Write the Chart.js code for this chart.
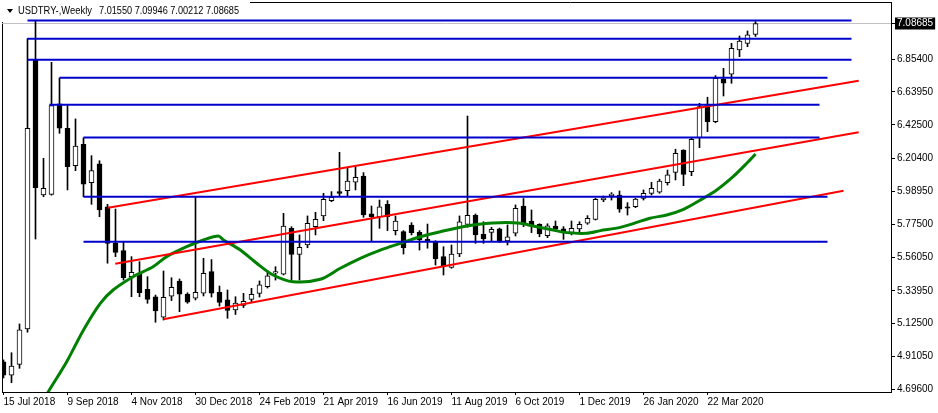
<!DOCTYPE html>
<html>
<head>
<meta charset="utf-8">
<script src="https://cdn.jsdelivr.net/npm/chart.js@4.4.1/dist/chart.umd.min.js"></script>
<style>
  html, body { margin: 0; padding: 0; background: #fff; }
</style>
</head>
<body>
<canvas id="usdtryChart" width="938" height="413"></canvas>
<script>
const symbol = 'USDTRY-,Weekly';
const fontFamily = "'Liberation Sans', Arial, sans-serif";

// weekly candles, index 0 = week of 15 Jul 2018
const opens = [4.876, 4.789, 4.859, 5.090, 6.848, 5.966, 5.970, 6.561, 6.402, 6.157,
  6.297, 6.046, 6.169, 5.889, 5.650, 5.602, 5.432, 5.454, 5.350, 5.301,
  5.167, 5.304, 5.404, 5.319, 5.291, 5.325, 5.466, 5.330, 5.280, 5.214,
  5.244, 5.284, 5.323, 5.367, 5.455, 5.448, 5.748, 5.578, 5.639, 5.759,
  5.829, 5.929, 5.988, 5.994, 6.049, 6.090, 5.842, 5.824, 5.905, 5.733,
  5.726, 5.770, 5.722, 5.676, 5.657, 5.563, 5.493, 5.580, 5.774, 5.833,
  5.709, 5.722, 5.744, 5.665, 5.716, 5.894, 5.796, 5.774, 5.700, 5.763,
  5.744, 5.722, 5.744, 5.781, 5.807, 5.933, 5.961, 5.966, 5.888, 5.889,
  5.944, 5.977, 5.984, 6.046, 6.114, 6.260, 6.118, 6.340, 6.548, 6.445,
  6.724, 6.755, 6.914, 6.957, 7.01550];
const highs = [4.888, 4.935, 5.123, 6.988, 7.105, 6.206, 6.833, 6.731, 6.550, 6.463,
  6.340, 6.223, 6.190, 5.905, 5.874, 5.657, 5.563, 5.530, 5.432, 5.312,
  5.469, 5.425, 5.417, 5.327, 5.955, 5.552, 5.544, 5.371, 5.345, 5.301,
  5.323, 5.356, 5.404, 5.469, 5.497, 5.846, 5.759, 5.705, 5.829, 5.853,
  5.977, 5.988, 6.245, 6.140, 6.147, 6.112, 5.894, 5.933, 5.929, 5.829,
  5.733, 5.785, 5.733, 5.776, 5.667, 5.628, 5.639, 5.829, 6.482, 5.842,
  5.791, 5.755, 5.750, 5.770, 5.901, 5.943, 5.868, 5.778, 5.778, 5.796,
  5.759, 5.796, 5.791, 5.831, 5.944, 5.959, 5.981, 5.992, 5.916, 5.944,
  5.999, 6.049, 6.069, 6.129, 6.265, 6.262, 6.340, 6.565, 6.605, 6.746,
  6.794, 6.957, 7.005, 7.038, 7.09946];
const lows = [4.770, 4.739, 4.833, 5.070, 5.678, 5.955, 5.965, 6.369, 5.999, 6.125,
  5.955, 5.905, 5.824, 5.520, 5.563, 5.410, 5.301, 5.301, 5.258, 5.134,
  5.149, 5.276, 5.203, 5.258, 5.280, 5.306, 5.299, 5.240, 5.160, 5.185,
  5.230, 5.265, 5.299, 5.358, 5.410, 5.443, 5.410, 5.410, 5.621, 5.705,
  5.798, 5.922, 5.959, 5.959, 5.999, 5.820, 5.661, 5.748, 5.733, 5.705,
  5.580, 5.705, 5.606, 5.618, 5.508, 5.443, 5.487, 5.563, 5.755, 5.650,
  5.650, 5.661, 5.654, 5.639, 5.698, 5.759, 5.720, 5.693, 5.687, 5.726,
  5.676, 5.705, 5.726, 5.774, 5.802, 5.922, 5.933, 5.853, 5.835, 5.883,
  5.933, 5.966, 5.977, 6.031, 6.064, 6.027, 6.092, 6.275, 6.380, 6.438,
  6.613, 6.696, 6.870, 6.935, 7.00212];
const closes = [4.789, 4.848, 5.084, 6.402, 6.014, 6.010, 6.550, 6.402, 6.151, 6.286,
  6.036, 6.125, 5.868, 5.650, 5.591, 5.425, 5.461, 5.327, 5.284, 5.208,
  5.297, 5.363, 5.317, 5.265, 5.330, 5.454, 5.325, 5.263, 5.212, 5.260,
  5.271, 5.317, 5.378, 5.437, 5.465, 5.763, 5.578, 5.624, 5.781, 5.807,
  5.938, 5.951, 5.977, 6.057, 6.082, 5.835, 5.824, 5.889, 5.824, 5.796,
  5.621, 5.720, 5.672, 5.667, 5.548, 5.504, 5.580, 5.791, 5.833, 5.705,
  5.678, 5.742, 5.665, 5.693, 5.879, 5.781, 5.770, 5.711, 5.765, 5.742,
  5.722, 5.748, 5.774, 5.814, 5.938, 5.948, 5.972, 5.874, 5.879, 5.940,
  5.977, 6.010, 6.057, 6.097, 6.238, 6.101, 6.330, 6.543, 6.445, 6.729,
  6.696, 6.925, 6.972, 7.012, 7.08685];

// green moving average (week index, price)
const maWeeks = [4.5, 5.6, 7.9, 10.0, 12.1, 13.7, 16.2, 18.7, 20.4, 22.9, 25.0, 26.85, 27.5,
  29.6, 31.65, 33.7, 36.2, 39.6, 42.1, 44.6, 47.1, 49.6, 52.1, 54.6, 58.7, 62.1, 64.6,
  66.2, 68.7, 70.4, 72.9, 74.6, 77.1, 80.8, 82.9, 85.0, 87.1, 89.15, 91.2, 92.9, 94.0];
const maValues = [4.58, 4.68, 4.876, 5.084, 5.258, 5.345, 5.432, 5.497, 5.563, 5.628, 5.672, 5.698, 5.672,
  5.606, 5.520, 5.443, 5.399, 5.415, 5.487, 5.552, 5.606, 5.650, 5.693, 5.726, 5.770, 5.785, 5.781,
  5.763, 5.737, 5.720, 5.716, 5.733, 5.754, 5.814, 5.835, 5.872, 5.933, 5.999, 6.086, 6.173, 6.234];

// horizontal levels (blue)
const levels = [7.1065, 6.9875, 6.850, 6.733, 6.556, 6.342, 5.954, 5.661];
const levelFrom = [3, 3, 3, 7, 5.73, 10, 10, 10];
const levelTo = [106, 106, 106, 103, 102, 102, 103, 103];

// channel trend lines (red)
const chanFromWeek = [13.06, 13.97, 19.97];
const chanFromPrice = [5.883, 5.517, 5.1535];
const chanToWeek = [106.9, 106.9, 105.0];
const chanToPrice = [6.713, 6.376, 5.994];

// axis labels
const dateLabels = ['15 Jul 2018', '9 Sep 2018', '4 Nov 2018', '30 Dec 2018', '24 Feb 2019', '21 Apr 2019',
  '16 Jun 2019', '11 Aug 2019', '6 Oct 2019', '1 Dec 2019', '26 Jan 2020', '22 Mar 2020'];
const dateWeeks = [0, 8, 16, 24, 32, 40, 48, 56, 64, 72, 80, 88];
const priceLabels = ['4.69600', '4.91050', '5.12500', '5.33950', '5.56050', '5.77500',
  '5.98950', '6.20400', '6.42500', '6.63950', '6.85400'];

const last = closes.length - 1;
const lastClose = closes[last];
const xMin = -0.1875, xMax = 110.9375;
const yMin = 4.6783, yMax = 7.2273;

const datasets = [];

levels.forEach((lv, i) => {
  datasets.push({
    type: 'line', order: 0,
    data: [{ x: levelFrom[i], y: lv }, { x: levelTo[i], y: lv }],
    borderColor: '#0000cd', borderWidth: 2, pointRadius: 0
  });
});

chanFromWeek.forEach((w, i) => {
  datasets.push({
    type: 'line', order: 0,
    data: [{ x: w, y: chanFromPrice[i] }, { x: chanToWeek[i], y: chanToPrice[i] }],
    borderColor: '#ff0000', borderWidth: 2, pointRadius: 0
  });
});

datasets.push({
  type: 'line', order: 0,
  data: maWeeks.map((w, i) => ({ x: w, y: maValues[i] })),
  borderColor: '#008000', borderWidth: 3, pointRadius: 0, tension: 0.3
});

// candle bodies
datasets.push({
  type: 'bar', order: 1, grouped: false,
  data: opens.map((o, i) => ({ x: i, y: [o, closes[i]] })),
  backgroundColor: opens.map((o, i) => closes[i] >= o ? '#ffffff' : '#000000'),
  borderColor: '#000000', borderWidth: 1, borderSkipped: false,
  barThickness: 5, minBarLength: 1
});

// wicks
datasets.push({
  type: 'bar', order: 2, grouped: false,
  data: highs.map((h, i) => ({ x: i, y: [lows[i], h] })),
  backgroundColor: '#000000', borderWidth: 0,
  barThickness: 1
});

// current price line
datasets.push({
  type: 'line', order: 3,
  data: [{ x: xMin, y: lastClose }, { x: xMax, y: lastClose }],
  borderColor: '#c0c0c0', borderWidth: 1, pointRadius: 0
});

const framePlugin = {
  id: 'frame',
  beforeDatasetsDraw(chart) {
    const { ctx, chartArea } = chart;
    ctx.save();
    ctx.strokeStyle = '#000';
    ctx.lineWidth = 1;
    ctx.beginPath();
    ctx.moveTo(chartArea.left + 0.5, 22);
    ctx.lineTo(chartArea.left + 0.5, chartArea.bottom);
    ctx.moveTo(250, chartArea.top + 0.5);
    ctx.lineTo(chartArea.right, chartArea.top + 0.5);
    ctx.stroke();
    ctx.restore();
  }
};

const headerPlugin = {
  id: 'header',
  afterDraw(chart) {
    const ctx = chart.ctx;
    ctx.save();
    ctx.fillStyle = '#000';
    ctx.beginPath();
    ctx.moveTo(7, 9);
    ctx.lineTo(13, 9);
    ctx.lineTo(10, 13);
    ctx.closePath();
    ctx.fill();
    ctx.font = '11px ' + fontFamily;
    ctx.textBaseline = 'alphabetic';
    ctx.fillText(symbol, 18, 14, 74);
    const ohlc = [opens[last], highs[last], lows[last], closes[last]].map(v => v.toFixed(5)).join(' ');
    ctx.fillText(ohlc, 99, 14, 140);
    ctx.restore();
  }
};

new Chart(document.getElementById('usdtryChart'), {
  type: 'bar',
  data: { datasets },
  options: {
    responsive: false,
    animation: false,
    devicePixelRatio: 1,
    layout: { padding: { top: 2, left: 2, right: 0, bottom: 0 } },
    plugins: { legend: { display: false }, tooltip: { enabled: false } },
    scales: {
      x: {
        type: 'linear', position: 'bottom', min: xMin, max: xMax,
        offset: false, bounds: 'data',
        grid: { display: true, drawOnChartArea: false, drawTicks: true, tickLength: 3, color: '#000', offset: false },
        border: { display: true, color: '#000' },
        ticks: {
          autoSkip: false, maxRotation: 0, align: 'start', padding: 1, color: '#000',
          font: { family: fontFamily, size: 10 },
          callback: (v, i) => dateLabels[i]
        },
        afterBuildTicks: s => { s.ticks = dateWeeks.map(v => ({ value: v })); },
        afterFit: s => { s.height = 21; s.paddingLeft = 0; s.paddingRight = 0; }
      },
      y: {
        type: 'linear', position: 'right', min: yMin, max: yMax,
        beginAtZero: false, bounds: 'data',
        grid: { display: true, drawOnChartArea: false, drawTicks: true, tickLength: 4, color: '#000' },
        border: { display: true, color: '#000' },
        ticks: {
          padding: 2,
          font: { family: fontFamily, size: 10, lineHeight: 1.2 },
          color: c => (c.tick && c.tick.value === lastClose) ? '#ffffff' : '#000000',
          showLabelBackdrop: c => !!(c.tick && c.tick.value === lastClose),
          backdropColor: '#000000',
          backdropPadding: { x: 2, y: 0 },
          callback: v => Number(v).toFixed(5)
        },
        afterBuildTicks: s => {
          s.ticks = priceLabels.map(Number).concat([lastClose]).map(v => ({ value: v }));
        },
        afterFit: s => { s.width = 47; s.paddingTop = 0; s.paddingBottom = 0; }
      }
    }
  },
  plugins: [framePlugin, headerPlugin]
});
</script>
</body>
</html>
